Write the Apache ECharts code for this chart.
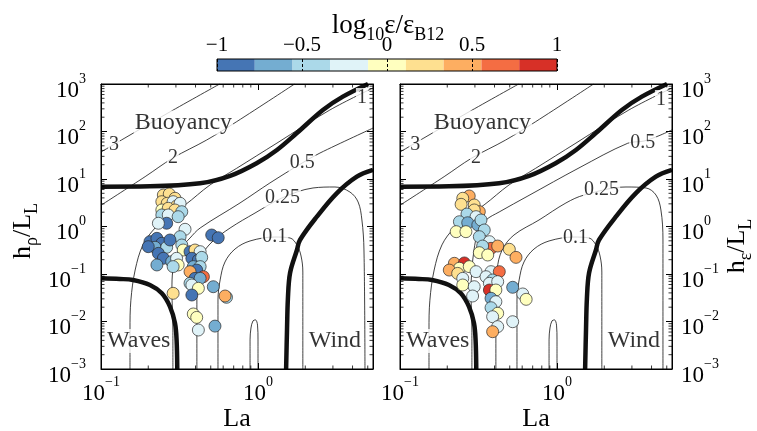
<!DOCTYPE html>
<html><head><meta charset="utf-8">
<script src="https://cdn.jsdelivr.net/npm/echarts@6/dist/echarts.min.js"></script>
<style>html,body{margin:0;padding:0;background:#fff}#c{width:757px;height:431px}</style>
</head><body><div id="c"></div>
<script>
// ---------- data ----------
const xRange = [0.1, 5.4];
const yRange = [0.001, 1000];
const cbEdges = [-1, -0.7778, -0.5556, -0.3333, -0.1111, 0.1111, 0.3333, 0.5556, 0.7778, 1];
const cbColors = ['#4575b4', '#74add1', '#abd9e9', '#e0f3f8', '#ffffbf', '#fee090', '#fdae61', '#f46d43', '#d73027'];
const cbTicks = [-1, -0.5, 0, 0.5, 1];
const minorMantissa = [2, 3, 4, 5, 6, 7, 8, 9];
const xDecades = [0.1, 1];
const yDecades = [0.001, 0.01, 0.1, 1, 10, 100];

// regime boundaries (thick) and contour lines: [La, h/L]
const thickBuoy = [[0.1,6.9],[0.205,7.0],[0.428,8.1],[0.664,11.6],[0.98,21.4],[1.32,40.8],[1.76,91.6],[2.59,284],[3.47,541],[5.02,1000]];
const thickWind = [[1.51,0.001],[1.53,0.0066],[1.55,0.03],[1.60,0.105],[1.77,0.32],[1.85,0.52],[2.37,1.61],[3.17,5.0],[4.26,11.2],[5.4,15.5]];
const thickWaves = [[0.1,0.081],[0.132,0.0785],[0.160,0.0748],[0.205,0.0587],[0.244,0.0392],[0.275,0.0205],[0.296,0.00916],[0.303,0.00408],[0.306,0.001]];
const c3 = [[0.1,37],[0.142,73],[0.267,245],[0.57,1000]];
const c2 = [[0.1,2.8],[0.191,11.2],[0.287,27.7],[0.471,66.2],[0.731,161],[1.71,1000]];
const c1Left = [[0.153,0.001],[0.153,0.0066],[0.155,0.028],[0.165,0.121],[0.185,0.41],[0.221,0.93],[0.275,1.75],[0.343,2.84],[0.495,7.5],[0.731,16.8],[1.32,57],[2.87,284],[5.4,824]];
const c1Right = c1Left;
const c05Left = [[0.287,0.001],[0.287,0.0066],[0.283,0.046],[0.287,0.121],[0.318,0.32],[0.369,0.573],[0.428,0.93],[0.768,3.13],[1.19,8.24],[1.91,21.7],[2.48,35.2],[5.4,118]];
const c05Right = [[0.287,0.001],[0.287,0.0066],[0.283,0.046],[0.287,0.121],[0.296,0.32],[0.314,0.77],[0.353,1.37],[0.428,2.02],[0.653,4.39],[1.38,17.1],[2.82,56.5],[3.58,63],[4.40,80],[5.4,108]];
const c025Left = [[0.408,0.001],[0.408,0.0284],[0.415,0.121],[0.440,0.251],[0.509,0.472],[0.664,0.929],[0.957,1.92],[1.42,3.98],[2.24,6.47],[3.09,6.79],[3.85,5.32],[4.34,3.28],[4.59,1.37],[4.73,0.32],[4.80,0.001]];
const c025Right = [[0.408,0.001],[0.408,0.0284],[0.415,0.121],[0.447,0.32],[0.532,0.662],[0.768,1.37],[1.14,3.13],[1.49,4.6],[2.75,6.79],[3.69,6.47],[4.27,4.6],[4.59,2.23],[4.73,0.52],[4.73,0.001]];
const c01 = [[0.556,0.001],[0.556,0.0284],[0.574,0.075],[0.616,0.179],[0.714,0.336],[0.89,0.496],[1.28,0.60],[1.60,0.573],[1.77,0.408],[1.88,0.239],[1.93,0.11],[1.93,0.001]];
const bump = [[0.89,0.001],[0.89,0.0041],[0.902,0.0073],[0.929,0.0103],[0.964,0.0108],[0.993,0.0084],[1.0,0.0041],[1.0,0.001]];

// text annotations: [La, h/L, text, kind]  kind 0 = contour level, 1 = regime name
const labelsLeft = [[0.121,52,'3',0],[0.287,27.7,'2',0],[4.59,507,'1',0],[1.91,21.7,'0.5',0],[1.43,4.08,'0.25',0],[1.28,0.616,'0.1',0],[0.335,155,'Buoyancy',1],[0.174,0.0039,'Waves',1],[3.09,0.0039,'Wind',1]];
const labelsRight = [[0.125,52,'3',0],[0.305,27.7,'2',0],[4.59,460,'1',0],[3.51,58.6,'0.5',0],[1.92,5.87,'0.25',0],[1.31,0.586,'0.1',0],[0.335,155,'Buoyancy',1],[0.174,0.0039,'Waves',1],[3.09,0.0039,'Wind',1]];

// observations: [La, h/L, log10 eps/eps_B12]
const obsLeft = [
[0.2495,4.60,0.22],[0.272,4.83,0.22],[0.296,3.93,0.22],[0.244,3.33,0.22],[0.264,3.08,0.22],[0.288,3.33,-0.22],
[0.303,2.70,0.22],[0.319,3.08,-0.22],[0.244,2.23,0],[0.268,2.42,0.22],[0.296,2.23,0.22],[0.327,2.05,-0.44],
[0.244,1.75,-0.44],[0.268,1.75,-0.22],[0.310,1.61,-0.44],[0.262,1.17,-0.89],[0.232,1.17,-0.22],[0.343,0.873,-0.22],
[0.319,0.610,-0.44],[0.205,0.479,-0.89],[0.227,0.564,-0.89],[0.244,0.443,-0.89],[0.221,0.365,-0.67],[0.200,0.376,-0.89],
[0.262,0.365,-0.44],[0.275,0.520,-0.89],[0.327,0.408,-0.44],[0.334,0.320,0],[0.232,0.272,-0.89],[0.2495,0.214,-0.89],
[0.282,0.182,-0.67],[0.303,0.214,-0.22],[0.310,0.155,0],[0.288,0.143,-0.44],[0.227,0.155,-0.67],[0.369,0.295,-0.89],
[0.397,0.320,0.22],[0.428,0.295,-0.22],[0.379,0.214,-0.89],[0.417,0.197,-0.89],[0.438,0.224,-0.44],[0.387,0.143,-0.67],
[0.428,0.143,-0.44],[0.407,0.121,-0.89],[0.369,0.112,0.44],[0.449,0.0877,0.67],[0.397,0.081,-0.89],[0.428,0.081,-0.67],
[0.369,0.0637,-0.44],[0.379,0.0587,-0.22],[0.417,0.050,0],[0.379,0.0361,-0.89],[0.288,0.0392,0.22],[0.519,0.054,-0.67],
[0.630,0.0323,-0.44],[0.617,0.0344,0.44],[0.507,0.662,-0.89],[0.558,0.581,-0.89],[0.387,0.0144,0],[0.407,0.0122,0],
[0.417,0.00662,-0.22],[0.532,0.0080,-0.67]
];
const obsRight = [
[0.276,4.39,0.44],[0.251,3.93,0.22],[0.245,2.93,0.22],[0.297,2.84,0.22],[0.320,2.05,0.44],[0.297,2.23,0.22],
[0.267,1.83,-0.44],[0.305,1.61,-0.22],[0.239,1.26,-0.44],[0.270,1.20,-0.67],[0.313,1.08,-0.67],[0.328,1.37,-0.44],
[0.228,0.778,0],[0.263,0.778,0],[0.344,0.844,-0.44],[0.320,0.610,-0.44],[0.371,0.479,-0.22],[0.380,0.347,0.67],
[0.419,0.388,0.44],[0.336,0.388,-0.44],[0.497,0.331,0.22],[0.548,0.224,0.44],[0.320,0.281,0],[0.362,0.251,0],
[0.222,0.168,0.44],[0.257,0.171,0.89],[0.239,0.132,0],[0.206,0.121,0.44],[0.276,0.143,0],[0.305,0.112,-0.22],
[0.233,0.103,0.22],[0.251,0.081,-0.22],[0.380,0.112,-0.22],[0.429,0.112,0.67],[0.353,0.0877,-0.22],[0.389,0.0748,-0.44],
[0.371,0.0637,-0.22],[0.419,0.069,-0.22],[0.251,0.0587,0],[0.297,0.054,-0.22],[0.371,0.046,0.89],[0.408,0.046,0],
[0.522,0.0525,-0.67],[0.605,0.038,-0.22],[0.636,0.0293,0],[0.290,0.0344,-0.22],[0.380,0.0308,-0.67],[0.408,0.0261,-0.22],
[0.380,0.0195,-0.44],[0.419,0.0149,0],[0.389,0.0126,-0.22],[0.522,0.0099,-0.22],[0.419,0.0078,-0.22],[0.389,0.0061,0.44]
];

// ---------- build ----------
const FONT = 'Liberation Serif';
const chart = echarts.init(document.getElementById('c'), null, {renderer: 'canvas'});

function powLabel(v) {
  const e = Math.log10(v), r = Math.round(e);
  if (Math.abs(e - r) > 1e-6) return '';
  return '{b|10}{s|' + (r < 0 ? '\u2212' + (-r) : r) + '}';
}
const powRich = {
  b: {fontSize: 23, fontFamily: FONT, color: '#000', lineHeight: 24, verticalAlign: 'top', padding: [7, 0, 0, 0]},
  s: {fontSize: 14, fontFamily: FONT, color: '#000', lineHeight: 16, verticalAlign: 'top'}
};
function logAxis(grid, pos, labels, range, margin) {
  return {
    type: 'log', logBase: 10, gridIndex: grid, position: pos, min: range[0], max: range[1],
    axisLine: {show: true, lineStyle: {color: '#000', width: 1}},
    axisTick: {show: true, inside: true, length: 6, lineStyle: {color: '#000', width: 1}},
    axisLabel: {show: labels, formatter: powLabel, rich: powRich, margin: margin, color: '#000'},
    splitLine: {show: false}, minorTick: {show: false}, z: 6
  };
}
const xAxes = [
  logAxis(0, 'bottom', true, xRange, 6),
  logAxis(1, 'bottom', true, xRange, 6),
  {type: 'value', gridIndex: 2, position: 'top', min: cbTicks[0], max: cbTicks[cbTicks.length - 1], interval: 0.5, z: 12,
   axisLine: {show: false}, axisTick: {show: false},
   splitLine: {show: true, lineStyle: {color: '#000', width: 1, type: [3, 2]}},
   axisLabel: {margin: 3, fontSize: 21, fontFamily: FONT, color: '#000',
     formatter: v => (v < 0 ? '\u2212' + Math.abs(v) : String(v))}},
  logAxis(0, 'top', false, xRange, 6),
  logAxis(1, 'top', false, xRange, 6)
];
const yAxes = [
  logAxis(0, 'left', true, yRange, 15),
  logAxis(1, 'right', true, yRange, 9),
  {type: 'value', gridIndex: 2, min: 0, max: 1, show: false},
  logAxis(0, 'right', false, yRange, 6),
  logAxis(1, 'left', false, yRange, 6)
];

const series = [];
function addLine(data, gi, w) {
  series.push({type: 'line', xAxisIndex: gi, yAxisIndex: gi, data: data, symbol: 'none', showSymbol: false,
    smooth: 0.35, clip: true, silent: true, z: 2, lineStyle: {color: '#111', width: w}});
}
[[0, c1Left, c05Left, c025Left], [1, c1Right, c05Right, c025Right]].forEach(([gi, a, b, c]) => {
  [c3, c2, a, b, c, c01, bump].forEach(d => addLine(d, gi, 0.8));
  [thickBuoy, thickWind, thickWaves].forEach(d => addLine(d, gi, 4.5));
});

// minor ticks (log 2..9) drawn via axes scales
const minorX = [], minorY = [];
xDecades.forEach(d => minorMantissa.forEach(m => { if (m * d < xRange[1]) minorX.push([m * d, yRange[0], 0]); }));
yDecades.forEach(d => minorMantissa.forEach(m => minorY.push([xRange[0], m * d, 1])));
function minorRender(params, api) {
  const cs = params.coordSys;
  const p = api.coord([api.value(0), api.value(1)]);
  const L = 3.5;
  let segs;
  if (api.value(2) === 0) segs = [[p[0], cs.y + cs.height, p[0], cs.y + cs.height - L], [p[0], cs.y, p[0], cs.y + L]];
  else segs = [[cs.x, p[1], cs.x + L, p[1]], [cs.x + cs.width, p[1], cs.x + cs.width - L, p[1]]];
  return {type: 'group', children: segs.map(s => ({type: 'line', shape: {x1: s[0], y1: s[1], x2: s[2], y2: s[3]},
    style: {stroke: '#000', lineWidth: 0.8}}))};
}
[0, 1].forEach(gi => series.push({type: 'custom', xAxisIndex: gi, yAxisIndex: gi, data: minorX.concat(minorY),
  renderItem: minorRender, silent: true, z: 6, clip: false}));

// contour / regime labels
function addLabels(arr, gi) {
  series.push({type: 'scatter', xAxisIndex: gi, yAxisIndex: gi, symbolSize: 1, silent: true, z: 3,
    itemStyle: {color: 'rgba(0,0,0,0)'},
    label: {show: true, position: 'inside', formatter: p => p.name, color: '#000', fontFamily: FONT,
      backgroundColor: '#fff', padding: [0, 1]},
    data: arr.map(l => ({value: [l[0], l[1]], name: l[2], label: {fontSize: l[3] ? 24 : 20}}))});
}
addLabels(labelsLeft, 0);
addLabels(labelsRight, 1);

// observations
const obsIdx = [];
[[obsLeft, 0], [obsRight, 1]].forEach(([d, gi]) => {
  obsIdx.push(series.length);
  series.push({type: 'scatter', xAxisIndex: gi, yAxisIndex: gi, data: d, symbolSize: 12, z: 5,
    itemStyle: {borderColor: '#2a2a2a', borderWidth: 0.7, opacity: 1}});
});

// colour bar
series.push({type: 'custom', xAxisIndex: 2, yAxisIndex: 2, silent: true, z: 2,
  data: cbColors.map((c, i) => [cbEdges[i], cbEdges[i + 1], i]),
  renderItem: (params, api) => {
    const p0 = api.coord([api.value(0), 1]), p1 = api.coord([api.value(1), 0]);
    return {type: 'rect', shape: {x: p0[0], y: p0[1], width: p1[0] - p0[0], height: p1[1] - p0[1]},
      style: {fill: cbColors[api.value(2)]}};
  }});

const gridBase = {show: true, borderColor: '#000', borderWidth: 1, z: 10, containLabel: false, outerBoundsMode: 'none', backgroundColor: 'transparent'};
const subRich = (main, sub, pad) => ({
  a: {fontSize: main, fontFamily: FONT, lineHeight: main + 1, verticalAlign: 'top', fill: '#000'},
  s: {fontSize: sub, fontFamily: FONT, lineHeight: sub + 1, verticalAlign: 'top', padding: [pad, 0, 0, 0], fill: '#000'}
});
const centered = {align: 'center', verticalAlign: 'middle', textAlign: 'center', textVerticalAlign: 'middle', fill: '#000'};
const option = {
  animation: false,
  backgroundColor: '#fff',
  textStyle: {fontFamily: FONT},
  grid: [
    Object.assign({left: 101, top: 84, width: 272, height: 285}, gridBase),
    Object.assign({left: 400, top: 84, width: 272, height: 285}, gridBase),
    Object.assign({left: 217, top: 59, width: 340, height: 12}, gridBase)
  ],
  xAxis: xAxes,
  yAxis: yAxes,
  visualMap: {type: 'piecewise', show: false, dimension: 2, seriesIndex: obsIdx,
    pieces: cbColors.map((c, i) => ({gte: cbEdges[i], lt: cbEdges[i + 1] + (i === cbColors.length - 1 ? 0.001 : 0), color: c}))},
  series: series,
  graphic: [
    {type: 'text', x: 388, y: 26, z: 20, style: Object.assign({text: '{a|log}{s|10}{a|\u03b5/\u03b5}{s|B12}', rich: subRich(27, 18, 14)}, centered)},
    {type: 'text', x: 24, y: 231, rotation: Math.PI / 2, z: 20, style: Object.assign({text: '{a|h}{s|\u03c1}{a|/L}{s|L}', rich: subRich(26, 18, 13)}, centered)},
    {type: 'text', x: 738, y: 246, rotation: Math.PI / 2, z: 20, style: Object.assign({text: '{a|h}{s|\u03b5}{a|/L}{s|L}', rich: subRich(26, 18, 13)}, centered)},
    {type: 'text', x: 237, y: 419, z: 20, style: Object.assign({text: 'La', font: '26px "Liberation Serif"'}, centered)},
    {type: 'text', x: 536, y: 419, z: 20, style: Object.assign({text: 'La', font: '26px "Liberation Serif"'}, centered)}
  ]
};
chart.setOption(option);
</script></body></html>
